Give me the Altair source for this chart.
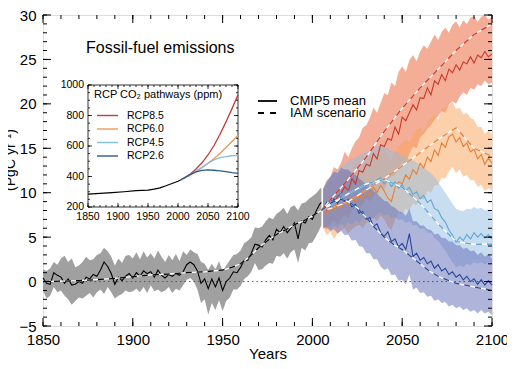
import altair as alt
import pandas as pd

FONT = "Liberation Sans"

# ---------------- data ----------------
HIST_YEARS = list(range(1850, 2005, 2)) + [2005]
HIST_MEAN = [0.4, -0.2, -0.3, 1.0, 0.7, 0.5, -0.2, 0.3, -0.4, -0.3,
             0.0, -0.2, 0.5, 0.3, 0.8, 0.6, 1.3, 2.2, 1.7, 0.9,
             -0.3, 0.5, 0.1, 0.6, 0.9, 0.4, 1.0, 0.6, 1.2, 0.9,
             1.1, 0.5, 1.3, 0.7, 0.4, 0.8, 0.6, 0.9, 0.7, 1.1,
             1.9, 2.2, 1.9, 1.2, -0.2, 0.3, -0.8, 0.3, -0.6, 0.4,
             -1.0, 0.0, 0.4, 1.1, 1.0, 1.6, 2.4, 2.4, 3.2, 4.2,
             4.1, 3.9, 4.7, 5.2, 4.7, 5.9, 5.5, 6.2, 5.5, 6.0,
             6.6, 4.8, 6.8, 6.6, 7.3, 7.0, 7.9, 8.7, 8.9]
HIST_HI = [1.4, 1.2, 1.5, 2.2, 1.9, 2.6, 2.9, 2.2, 2.6, 1.6,
           1.8, 2.2, 2.8, 2.4, 2.5, 3.0, 3.2, 3.8, 3.4, 2.8,
           1.8, 2.6, 2.1, 2.9, 3.0, 2.6, 3.3, 2.5, 3.4, 2.7,
           3.2, 2.6, 3.5, 2.8, 2.2, 3.0, 2.4, 3.1, 2.3, 3.4,
           3.0, 3.6, 3.3, 3.1, 2.2, 2.0, 1.3, 2.0, 1.4, 2.3,
           1.2, 1.8, 2.4, 3.0, 3.1, 3.5, 4.3, 4.6, 5.0, 6.1,
           6.0, 6.2, 6.8, 7.2, 7.0, 7.6, 7.9, 8.3, 7.6, 8.4,
           8.6, 8.0, 8.8, 8.9, 9.3, 9.6, 9.9, 10.4, 10.6]
HIST_LO = [-1.0, -1.9, -1.6, -0.6, -1.2, -1.0, -1.6, -2.0, -2.6, -2.2,
           -1.8, -1.9, -1.6, -1.3, -1.8, -1.2, -0.9, -1.4, -0.6, -1.2,
           -1.9, -1.6, -1.4, -1.0, -1.2, -1.1, -0.8, -1.2, -0.6, -1.3,
           -0.4, -1.1, -0.9, -1.2, -1.0, -0.6, -1.3, -0.8, -1.0, -0.4,
           0.2, 0.4, 0.0, -0.9, -2.4, -2.0, -3.7, -2.4, -3.2, -2.1,
           -3.3, -2.2, -1.8, -0.9, -0.9, -0.5, 0.3, 0.6, 1.1, 2.1,
           1.3, 1.4, 1.8, 2.1, 2.0, 2.9, 2.8, 3.2, 2.6, 3.3,
           3.6, 2.1, 3.8, 3.5, 4.3, 4.4, 5.1, 5.9, 6.3]
HIST_IAM_YEARS = [1850, 1870, 1890, 1900, 1910, 1920, 1930, 1940, 1950, 1955,
                  1960, 1965, 1970, 1975, 1980, 1985, 1990, 1995, 2000, 2005]
HIST_IAM = [0.0, 0.1, 0.35, 0.55, 0.75, 0.85, 1.0, 1.1, 1.3, 1.6,
            2.0, 2.8, 3.8, 4.6, 5.3, 5.8, 6.4, 6.8, 7.4, 8.0]

RCP_YEARS = list(range(2006, 2101, 2))
R85_MEAN = [8.4, 8.0, 9.3, 8.9, 9.6, 9.9, 10.7, 10.2, 11.6, 11.0,
            12.5, 12.3, 13.2, 13.0, 14.4, 13.8, 15.4, 15.2, 16.1, 15.9,
            17.4, 16.6, 18.5, 18.1, 19.0, 19.9, 19.3, 20.7, 20.6, 21.8,
            21.0, 22.6, 22.2, 23.3, 22.6, 23.9, 23.5, 24.4, 23.8, 24.7,
            24.5, 25.3, 24.6, 25.5, 25.2, 25.9, 25.3, 25.6]
R85_HI = [10.5, 11.4, 11.8, 12.9, 12.6, 13.4, 14.6, 14.0, 15.0, 15.8,
          16.2, 17.3, 17.6, 18.4, 19.6, 19.0, 20.1, 21.2, 21.0, 22.4,
          22.0, 23.6, 24.2, 23.6, 24.9, 25.5, 24.8, 25.9, 26.6, 26.2,
          27.0, 27.8, 27.2, 28.1, 28.6, 28.0, 28.9, 29.3, 28.6, 29.4,
          29.0, 29.7, 29.9, 29.2, 29.8, 30.0, 29.5, 29.8]
R85_LO = [6.2, 5.8, 6.5, 6.9, 6.4, 7.0, 7.5, 7.2, 8.0, 8.4,
          8.2, 8.6, 9.4, 9.0, 9.6, 10.2, 10.6, 10.3, 11.4, 11.8,
          12.0, 12.6, 13.4, 13.2, 14.4, 15.2, 15.0, 16.2, 16.6, 17.2,
          17.6, 18.2, 18.6, 19.2, 19.0, 19.9, 20.3, 20.0, 20.8, 21.3,
          21.0, 21.8, 21.6, 22.2, 22.0, 22.6, 22.2, 22.4]
R85_IAM_YEARS = [2005, 2010, 2020, 2030, 2040, 2050, 2060, 2070, 2080, 2090, 2100]
R85_IAM = [8.0, 9.2, 11.5, 14.0, 16.9, 19.5, 21.8, 23.9, 26.0, 27.8, 29.0]

R60_MEAN = [8.2, 7.6, 8.6, 8.0, 9.0, 8.3, 9.2, 8.6, 9.5, 8.9,
            9.8, 9.2, 10.3, 9.6, 10.6, 10.0, 10.8, 10.2, 9.4, 9.0,
            10.6, 11.2, 11.0, 12.0, 11.5, 12.6, 12.1, 13.3, 12.8, 14.0,
            13.5, 14.8, 14.2, 15.6, 15.1, 16.3, 16.6, 15.7, 16.2, 15.2,
            15.6, 14.6, 14.9, 13.8, 14.3, 13.2, 13.9, 13.3]
R60_HI = [10.2, 10.8, 11.4, 11.0, 11.8, 12.4, 12.6, 12.0, 12.8, 13.2,
          13.4, 12.8, 13.6, 14.2, 14.4, 13.8, 14.6, 14.9, 14.0, 13.4,
          14.6, 15.2, 15.6, 16.0, 15.6, 16.6, 17.0, 17.4, 16.8, 18.0,
          18.4, 18.8, 18.2, 19.4, 19.6, 19.8, 20.2, 19.4, 19.6, 18.8,
          19.0, 18.4, 18.2, 17.4, 17.4, 16.6, 17.0, 16.6]
R60_LO = [6.0, 5.2, 5.6, 4.8, 5.4, 5.8, 6.0, 5.4, 5.9, 6.2,
          6.4, 6.0, 6.6, 6.9, 7.2, 6.8, 7.4, 7.0, 6.2, 5.8,
          6.9, 7.8, 7.6, 8.2, 8.0, 8.8, 8.6, 9.4, 9.2, 10.2,
          10.0, 10.8, 10.9, 11.7, 11.6, 12.4, 12.9, 12.2, 12.6, 11.8,
          12.0, 11.4, 11.4, 10.7, 10.9, 10.2, 10.5, 10.2]
R60_IAM_YEARS = [2005, 2010, 2020, 2030, 2040, 2050, 2060, 2070, 2080, 2090, 2100]
R60_IAM = [8.0, 8.2, 9.0, 10.3, 11.6, 13.0, 14.5, 16.0, 17.3, 15.0, 14.1]

R45_MEAN = [8.3, 8.9, 8.5, 9.4, 9.0, 9.9, 9.4, 10.2, 9.7, 10.5,
            10.0, 10.9, 10.4, 11.2, 10.8, 11.5, 11.7, 11.0, 11.4, 10.7,
            11.2, 10.5, 10.9, 10.2, 10.6, 9.8, 10.1, 9.3, 9.7, 8.9,
            9.2, 8.2, 8.0, 7.2, 6.7, 5.8, 5.2, 4.4, 5.0, 4.6,
            5.3, 4.8, 5.5, 5.0, 5.4, 4.9, 5.3, 4.8]
R45_HI = [10.4, 11.2, 11.6, 12.2, 12.4, 13.0, 13.2, 13.6, 13.8, 14.0,
          14.2, 14.4, 14.6, 14.8, 15.0, 15.2, 15.4, 15.1, 15.0, 14.7,
          14.6, 14.4, 14.2, 14.0, 13.8, 13.6, 13.4, 13.0, 12.8, 12.5,
          12.2, 11.8, 11.2, 10.6, 10.0, 9.4, 8.8, 8.2, 8.0, 7.9,
          8.2, 8.1, 8.4, 8.2, 8.3, 8.0, 8.1, 7.8]
R45_LO = [6.2, 6.4, 5.9, 6.3, 6.0, 6.5, 6.2, 6.7, 6.4, 6.9,
          6.6, 7.1, 6.9, 7.3, 7.1, 7.6, 7.8, 7.4, 7.6, 7.1,
          7.3, 6.9, 7.0, 6.6, 6.8, 6.3, 6.4, 5.9, 6.0, 5.5,
          5.5, 4.9, 4.6, 4.0, 3.5, 2.8, 2.2, 1.6, 1.8, 1.6,
          2.0, 1.8, 2.2, 2.0, 2.2, 1.9, 2.2, 1.9]
R45_IAM_YEARS = [2005, 2010, 2020, 2030, 2040, 2050, 2060, 2070, 2080, 2090, 2100]
R45_IAM = [8.0, 8.6, 9.9, 11.0, 11.5, 10.6, 8.8, 6.5, 4.5, 4.2, 4.2]

R26_MEAN = [8.2, 8.9, 8.5, 9.3, 8.8, 9.5, 9.0, 9.2, 8.4, 8.7,
            7.7, 7.9, 7.0, 7.2, 6.2, 6.5, 5.5, 5.1, 5.6, 4.5,
            4.8, 3.9, 4.3, 3.6, 5.4, 2.8, 3.2, 2.4, 2.7, 2.0,
            2.3, 1.5, 1.9, 1.2, 1.5, 0.8, 1.1, 0.5, 0.8, 0.2,
            0.6, 0.0, 0.3, -0.3, 0.2, -0.4, 0.1, -0.4]
R26_HI = [10.4, 11.2, 11.8, 12.4, 12.2, 12.8, 12.6, 12.6, 12.2, 12.0,
          11.6, 11.3, 10.9, 10.6, 10.2, 9.9, 9.5, 9.1, 9.0, 8.5,
          8.3, 7.9, 7.8, 7.4, 8.2, 6.8, 6.8, 6.3, 6.3, 5.9,
          5.8, 5.3, 5.4, 4.9, 4.9, 4.5, 4.5, 4.1, 4.1, 3.7,
          3.8, 3.4, 3.5, 3.0, 3.3, 2.8, 3.1, 2.6]
R26_LO = [6.0, 6.1, 5.7, 5.9, 5.4, 5.7, 5.2, 5.3, 4.6, 4.7,
          4.0, 3.9, 3.2, 3.2, 2.5, 2.5, 1.7, 1.3, 1.5, 0.7,
          0.8, 0.1, 0.2, -0.3, 0.8, -0.9, -0.7, -1.3, -1.2, -1.7,
          -1.6, -2.2, -2.0, -2.4, -2.3, -2.8, -2.6, -3.0, -2.8, -3.2,
          -3.0, -3.4, -3.2, -3.6, -3.2, -3.6, -3.4, -3.8]
R26_IAM_YEARS = [2005, 2010, 2015, 2020, 2025, 2030, 2035, 2040, 2045, 2050,
                 2055, 2060, 2065, 2070, 2075, 2080, 2090, 2100]
R26_IAM = [8.0, 8.8, 9.3, 9.0, 8.3, 7.2, 6.0, 5.0, 4.2, 3.6,
           2.8, 2.0, 1.2, 0.6, 0.2, -0.2, -0.6, -1.0]

# inset: CO2 concentration pathways (ppm)
CO2_HIST_YEARS = [1850, 1870, 1890, 1910, 1930, 1950, 1960, 1970, 1980, 1990, 2000, 2005]
CO2_HIST = [285, 289, 294, 300, 307, 311, 317, 325, 339, 354, 369, 379]
CO2_RCP_YEARS = [2005, 2010, 2020, 2030, 2040, 2050, 2060, 2070, 2080, 2090, 2100]
CO2_85 = [379, 390, 415, 449, 490, 541, 603, 677, 758, 845, 936]
CO2_60 = [379, 389, 409, 431, 458, 487, 518, 551, 590, 630, 670]
CO2_45 = [379, 389, 411, 435, 460, 487, 509, 524, 531, 536, 538]
CO2_26 = [379, 389, 412, 430, 440, 443, 441, 437, 432, 426, 421]

RCP_NAMES = ["RCP8.5", "RCP6.0", "RCP4.5", "RCP2.6"]
LINE_COLORS = ["#c8382c", "#e3803a", "#5fa6d4", "#28479b"]
BAND_COLORS = ["#ed7853", "#f7a157", "#93bbe1", "#5f6ab8"]
BAND_OPACITY = [0.6, 0.5, 0.5, 0.5]
INSET_COLORS = ["#c23c33", "#eb9a55", "#86bedc", "#2d5b8e"]

X_LABELS = [1850, 1900, 1950, 2000, 2050, 2100]
Y_LABELS = [-5, 0, 5, 10, 15, 20, 25, 30]
IX_LABELS = [1850, 1900, 1950, 2000, 2050, 2100]
IY_LABELS = [200, 400, 600, 800, 1000]

# ---------------- layout ----------------
W, H = 449, 311
MSX = alt.Scale(domain=[1850, 2100], nice=False, zero=False)
MSY = alt.Scale(domain=[-5, 30], nice=False, zero=False)
ISX = alt.Scale(domain=[1850, 2100], range=[45, 195], nice=False, zero=False)
ISY = alt.Scale(domain=[200, 1000], range=[192, 70], nice=False, zero=False)

XAX = alt.Axis(values=X_LABELS, format="d", labelFontSize=15, ticks=False, domain=False,
               grid=False, labelPadding=6, labelFlush=False, labelOverlap=False,
               title="Years", titleFontSize=15, titleFontWeight="normal", titlePadding=-1,
               labelFont=FONT, titleFont=FONT, labelColor="black", titleColor="black")
YAX = alt.Axis(values=Y_LABELS, labelFontSize=15, ticks=False, domain=False, grid=False,
               labelPadding=7, labelFlush=False, labelOverlap=False, title=None,
               labelFont=FONT, labelColor="black")


def mx(field):
    return alt.X(f"{field}:Q", scale=MSX, axis=XAX)


def my(field):
    return alt.Y(f"{field}:Q", scale=MSY, axis=YAX)


def ix(field):
    return alt.X(f"{field}:Q", scale=ISX, axis=None)


def iy(field):
    return alt.Y(f"{field}:Q", scale=ISY, axis=None)


ONE = pd.DataFrame({"k": [0]})

hist = pd.DataFrame([{"year": y, "v": m, "hi": h, "lo": l}
                     for y, m, h, l in zip(HIST_YEARS, HIST_MEAN, HIST_HI, HIST_LO)])
hist_iam = pd.DataFrame({"year": HIST_IAM_YEARS, "v": HIST_IAM})

rcp_series = [
    (R85_MEAN, R85_HI, R85_LO, R85_IAM_YEARS, R85_IAM),
    (R60_MEAN, R60_HI, R60_LO, R60_IAM_YEARS, R60_IAM),
    (R45_MEAN, R45_HI, R45_LO, R45_IAM_YEARS, R45_IAM),
    (R26_MEAN, R26_HI, R26_LO, R26_IAM_YEARS, R26_IAM),
]

main_layers = []
# bands
main_layers.append(alt.Chart(hist).mark_area(color="#a0a0a0", opacity=1.0).encode(
    x=mx("year"), y=my("lo"), y2="hi:Q"))
for i, (mean, hi, lo, iyrs, iam) in enumerate(rcp_series):
    df = pd.DataFrame([{"year": y, "v": m, "hi": h, "lo": l}
                       for y, m, h, l in zip(RCP_YEARS, mean, hi, lo)])
    main_layers.append(alt.Chart(df).mark_area(color=BAND_COLORS[i], opacity=BAND_OPACITY[i]).encode(
        x=mx("year"), y=my("lo"), y2="hi:Q"))

# zero line
main_layers.append(alt.Chart(pd.DataFrame({"z": [0]})).mark_rule(
    color="#555555", strokeDash=[1.5, 3], strokeWidth=1).encode(y=my("z")))

# CMIP5 mean lines
main_layers.append(alt.Chart(hist).mark_line(color="black", strokeWidth=1.1).encode(
    x=mx("year"), y=my("v")))
for i, (mean, hi, lo, iyrs, iam) in enumerate(rcp_series):
    df = pd.DataFrame({"year": RCP_YEARS, "v": mean})
    main_layers.append(alt.Chart(df).mark_line(color=LINE_COLORS[i], strokeWidth=1.1).encode(
        x=mx("year"), y=my("v")))

# IAM scenario (dashed, over white)
iam_sets = [(hist_iam, "black")] + [
    (pd.DataFrame({"year": s[3], "v": s[4]}), LINE_COLORS[i]) for i, s in enumerate(rcp_series)]
for df, col in iam_sets:
    main_layers.append(alt.Chart(df).mark_line(color="white", strokeWidth=1.3).encode(
        x=mx("year"), y=my("v")))
    main_layers.append(alt.Chart(df).mark_line(color=col, strokeWidth=1.3, strokeDash=[6, 5]).encode(
        x=mx("year"), y=my("v")))

# inward ticks of the main frame
xt_major = pd.DataFrame({"t": X_LABELS})
xt_minor = pd.DataFrame({"t": list(range(1850, 2101, 10))})
yt_major = pd.DataFrame({"t": Y_LABELS})
yt_minor = pd.DataFrame({"t": list(range(-5, 31))})
for df, ln in [(xt_major, 8), (xt_minor, 4)]:
    main_layers.append(alt.Chart(df).mark_rule(color="black", strokeWidth=1).encode(
        x=mx("t"), y=alt.value(H), y2=alt.value(H - ln)))
    main_layers.append(alt.Chart(df).mark_rule(color="black", strokeWidth=1).encode(
        x=mx("t"), y=alt.value(0), y2=alt.value(ln)))
for df, ln in [(yt_major, 8), (yt_minor, 4)]:
    main_layers.append(alt.Chart(df).mark_rule(color="black", strokeWidth=1).encode(
        y=my("t"), x=alt.value(0), x2=alt.value(ln)))
    main_layers.append(alt.Chart(df).mark_rule(color="black", strokeWidth=1).encode(
        y=my("t"), x=alt.value(W), x2=alt.value(W - ln)))

# texts
main_layers.append(alt.Chart(ONE).mark_text(
    text="Fossil-fuel emissions", font=FONT, fontSize=16, align="left", baseline="alphabetic",
    color="black").encode(x=alt.value(43), y=alt.value(38)))
main_layers.append(alt.Chart(ONE).mark_text(
    text="(PgC yr\u207b\u00b9)", font=FONT, fontSize=14, align="center", baseline="alphabetic",
    angle=270, color="black").encode(x=alt.value(-28), y=alt.value(145)))
main_layers.append(alt.Chart(ONE).mark_rule(color="black", strokeWidth=1.8).encode(
    x=alt.value(215), x2=alt.value(234), y=alt.value(86)))
main_layers.append(alt.Chart(ONE).mark_rule(color="black", strokeWidth=1.8, strokeDash=[6, 6]).encode(
    x=alt.value(215), x2=alt.value(234), y=alt.value(98)))
main_layers.append(alt.Chart(ONE).mark_text(
    text="CMIP5 mean", font=FONT, fontSize=13, align="left", baseline="middle",
    color="black").encode(x=alt.value(247), y=alt.value(86)))
main_layers.append(alt.Chart(ONE).mark_text(
    text="IAM scenario", font=FONT, fontSize=13, align="left", baseline="middle",
    color="black").encode(x=alt.value(247), y=alt.value(98)))

main = alt.layer(*main_layers)

# ---------------- inset ----------------
inset_layers = []
frame = pd.DataFrame({"x1": [1850], "x2": [2100], "y1": [200], "y2": [1000]})
inset_layers.append(alt.Chart(frame).mark_rect(fill="white", stroke="black", strokeWidth=0.8).encode(
    x=ix("x1"), x2="x2:Q", y=iy("y1"), y2="y2:Q"))
inset_layers.append(alt.Chart(pd.DataFrame({"year": CO2_HIST_YEARS, "v": CO2_HIST})).mark_line(
    color="black", strokeWidth=1.2).encode(x=ix("year"), y=iy("v")))
for i, arr in enumerate([CO2_85, CO2_60, CO2_45, CO2_26]):
    inset_layers.append(alt.Chart(pd.DataFrame({"year": CO2_RCP_YEARS, "v": arr})).mark_line(
        color=INSET_COLORS[i], strokeWidth=1.3).encode(x=ix("year"), y=iy("v")))

ixt_major = pd.DataFrame({"t": IX_LABELS})
ixt_minor = pd.DataFrame({"t": list(range(1850, 2101, 10))})
iyt_major = pd.DataFrame({"t": IY_LABELS})
iyt_minor = pd.DataFrame({"t": list(range(200, 1001, 50))})
for df, ln in [(ixt_major, 4), (ixt_minor, 2)]:
    inset_layers.append(alt.Chart(df).mark_rule(color="black", strokeWidth=0.8).encode(
        x=ix("t"), y=alt.value(192), y2=alt.value(192 - ln)))
    inset_layers.append(alt.Chart(df).mark_rule(color="black", strokeWidth=0.8).encode(
        x=ix("t"), y=alt.value(70), y2=alt.value(70 + ln)))
for df, ln in [(iyt_major, 4), (iyt_minor, 2)]:
    inset_layers.append(alt.Chart(df).mark_rule(color="black", strokeWidth=0.8).encode(
        y=iy("t"), x=alt.value(45), x2=alt.value(45 + ln)))
    inset_layers.append(alt.Chart(df).mark_rule(color="black", strokeWidth=0.8).encode(
        y=iy("t"), x=alt.value(195), x2=alt.value(195 - ln)))
inset_layers.append(alt.Chart(ixt_major).mark_text(
    font=FONT, fontSize=10.5, baseline="middle", align="center", color="black").encode(
    x=ix("t"), y=alt.value(202), text="t:Q"))
inset_layers.append(alt.Chart(iyt_major).mark_text(
    font=FONT, fontSize=10.5, baseline="middle", align="right", color="black").encode(
    y=iy("t"), x=alt.value(41), text="t:Q"))
inset_layers.append(alt.Chart(ONE).mark_text(
    text="RCP CO\u2082 pathways (ppm)", font=FONT, fontSize=11, align="left", baseline="middle",
    color="black").encode(x=alt.value(51), y=alt.value(80)))
for i, name in enumerate(RCP_NAMES):
    yy = 100.5 + 13.5 * i
    inset_layers.append(alt.Chart(ONE).mark_rule(color=INSET_COLORS[i], strokeWidth=1.4).encode(
        x=alt.value(54), x2=alt.value(75), y=alt.value(yy)))
    inset_layers.append(alt.Chart(ONE).mark_text(
        text=name, font=FONT, fontSize=10.5, align="left", baseline="middle", color="black").encode(
        x=alt.value(84), y=alt.value(yy)))

inset = alt.layer(*inset_layers)

chart = alt.layer(main, inset).resolve_scale(x="independent", y="independent").properties(
    width=W, height=H,
    padding={"left": 35, "top": 7, "right": 15, "bottom": 35},
    autosize=alt.AutoSizeParams(type="none"),
).configure_view(stroke="black", strokeWidth=1).configure(font=FONT)

chart.save("out.html", embed_options={"renderer": "svg", "actions": False})
